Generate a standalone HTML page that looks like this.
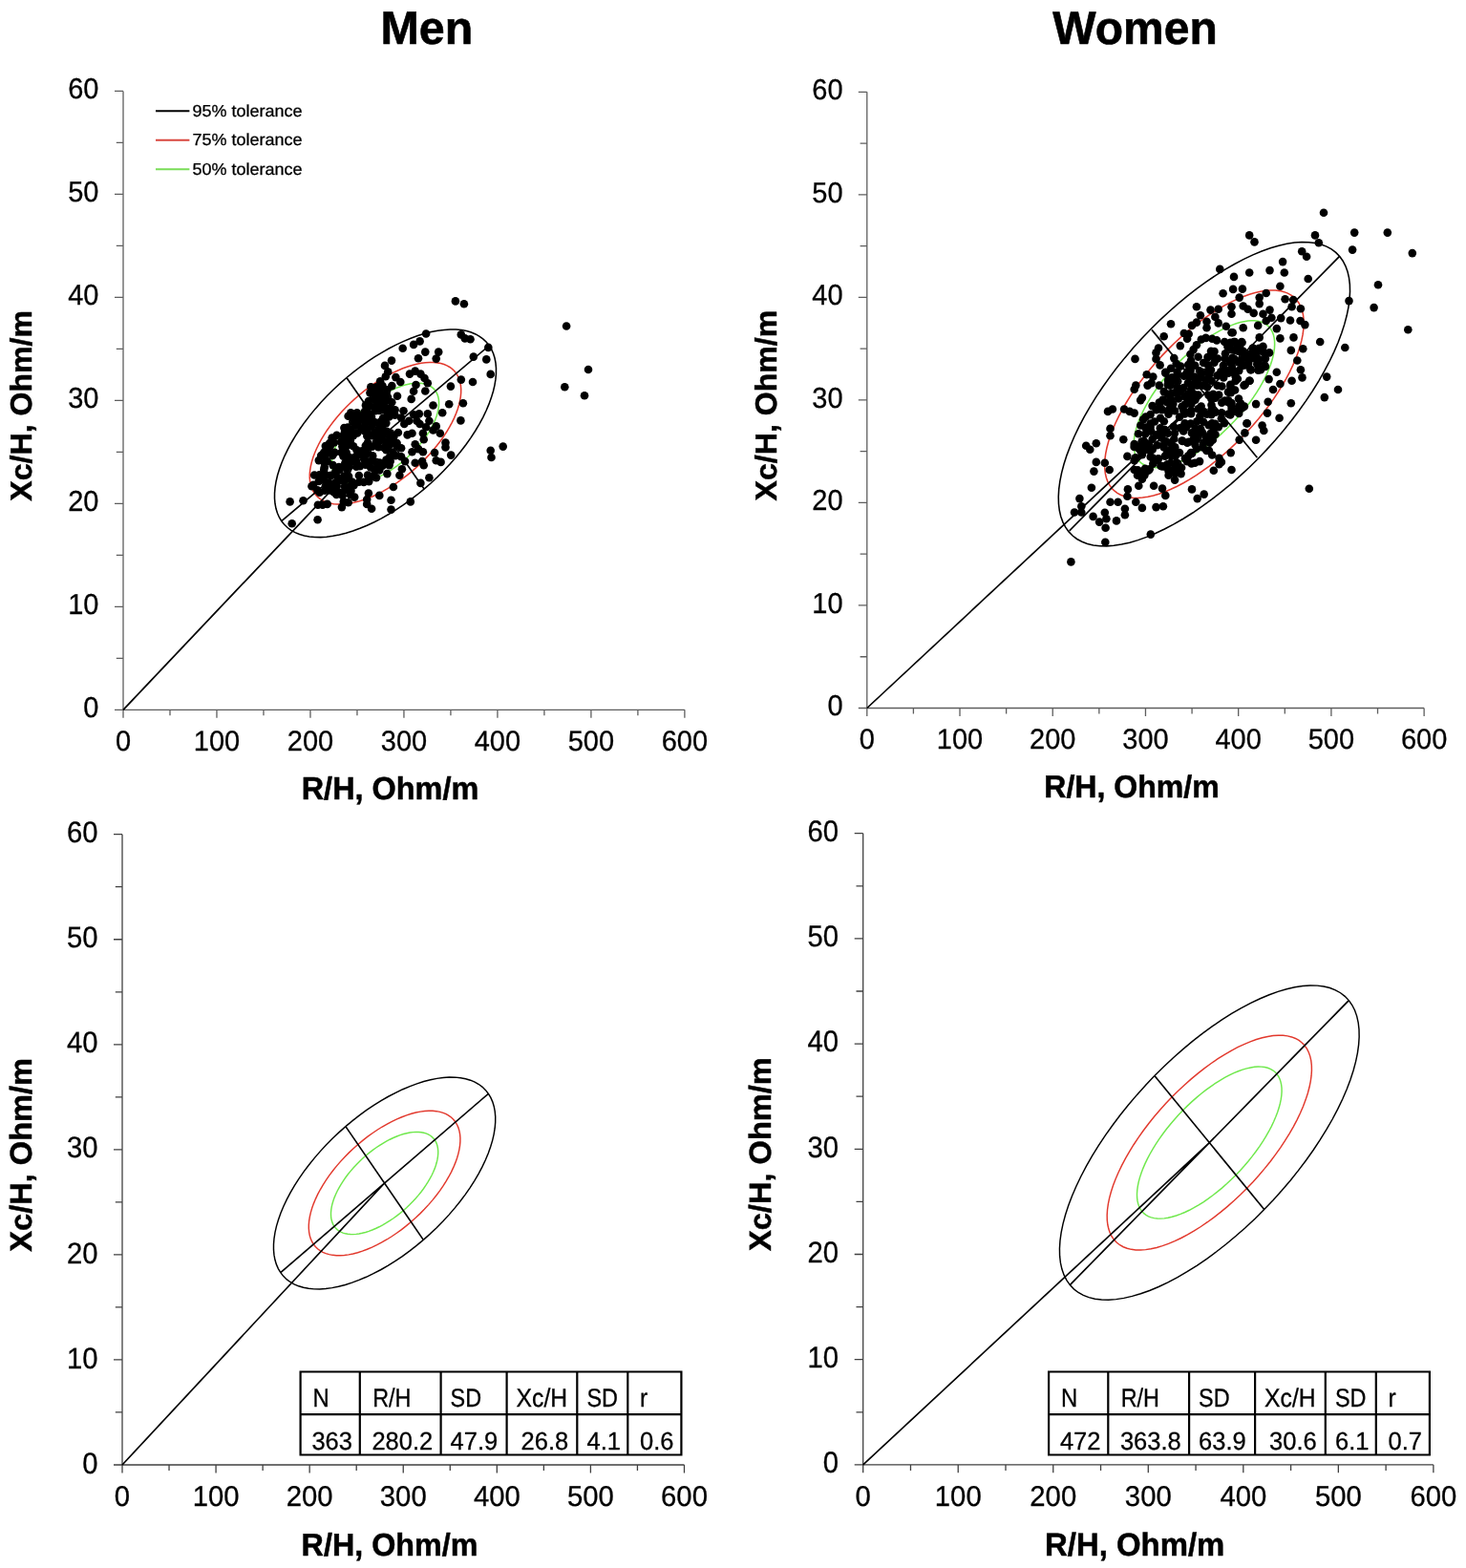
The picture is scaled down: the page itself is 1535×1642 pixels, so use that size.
<!DOCTYPE html>
<html lang="en"><head><meta charset="utf-8"><title>Men / Women BIVA tolerance ellipses</title>
<style>
html,body{margin:0;padding:0;background:#fff;}
body{width:1535px;height:1642px;overflow:hidden;}
svg{display:block;font-family:'Liberation Sans', Arial, Helvetica, sans-serif;}
text{fill:#000;text-rendering:geometricPrecision;}
.axis{fill:none;stroke-width:1.3;}
.ticks text,.legend text,.tt text{stroke:#000;stroke-width:0.3;}
.ell path{fill:none;}
.vec{fill:none;stroke:#000;}
.tbl{fill:none;stroke:#000;stroke-width:2.2;}
.lab,.title{font-weight:bold;stroke:#000;}
.lab{stroke-width:0.5;}
.title{stroke-width:0.6;}
.pts circle{fill:#000;}
</style></head><body>
<svg width="1535" height="1642" viewBox="0 0 1535 1642">
<rect width="1535" height="1642" fill="#fff"/>
<text class="title" transform="translate(446.85 45.6) scale(1 1.01)" font-size="48.4" text-anchor="middle">Men</text>
<text class="title" transform="translate(1188.5 45.6) scale(1 1.01)" font-size="48" text-anchor="middle">Women</text>
<g class="chart" id="chart1">
<path class="axis" d="M129 95.42V743.3H716.88M120 743.3h9M121.8 689.31h7.2M120 635.32h9M121.8 581.33h7.2M120 527.34h9M121.8 473.35h7.2M120 419.36h9M121.8 365.37h7.2M120 311.38h9M121.8 257.39h7.2M120 203.4h9M121.8 149.41h7.2M120 95.42h9M129 743.3v8.4M177.99 743.3v6M226.98 743.3v8.4M275.97 743.3v6M324.96 743.3v8.4M373.95 743.3v6M422.94 743.3v8.4M471.93 743.3v6M520.92 743.3v8.4M569.91 743.3v6M618.9 743.3v8.4M667.89 743.3v6M716.88 743.3v8.4" stroke="#5e5e5e"/>
<g class="ticks" font-size="29">
<text transform="translate(103.5 751.2) scale(1 1.045)" text-anchor="end">0</text>
<text transform="translate(103.5 643.22) scale(1 1.045)" text-anchor="end">10</text>
<text transform="translate(103.5 535.24) scale(1 1.045)" text-anchor="end">20</text>
<text transform="translate(103.5 427.26) scale(1 1.045)" text-anchor="end">30</text>
<text transform="translate(103.5 319.28) scale(1 1.045)" text-anchor="end">40</text>
<text transform="translate(103.5 211.3) scale(1 1.045)" text-anchor="end">50</text>
<text transform="translate(103.5 103.32) scale(1 1.045)" text-anchor="end">60</text>
<text transform="translate(129 785.6) scale(1 1.025)" text-anchor="middle">0</text>
<text transform="translate(226.98 785.6) scale(1 1.025)" text-anchor="middle">100</text>
<text transform="translate(324.96 785.6) scale(1 1.025)" text-anchor="middle">200</text>
<text transform="translate(422.94 785.6) scale(1 1.025)" text-anchor="middle">300</text>
<text transform="translate(520.92 785.6) scale(1 1.025)" text-anchor="middle">400</text>
<text transform="translate(618.9 785.6) scale(1 1.025)" text-anchor="middle">500</text>
<text transform="translate(716.88 785.6) scale(1 1.025)" text-anchor="middle">600</text>
</g>
<text class="lab" transform="translate(408.5 836.6) scale(1 1.025)" font-size="32.45" text-anchor="middle">R/H, Ohm/m</text>
<text class="lab" transform="translate(32.9 424.8) rotate(-90) scale(1 0.985)" font-size="32.1" text-anchor="middle">Xc/H, Ohm/m</text>
<g class="ell" stroke-width="1.55">
<path d="M456.03 409.39L457.2 411.33L458.14 413.45L458.85 415.74L459.32 418.19L459.55 420.8L459.54 423.55L459.29 426.43L458.8 429.43L458.08 432.53L457.12 435.72L455.93 438.99L454.52 442.32L452.89 445.7L451.04 449.12L449 452.55L446.76 455.99L444.33 459.43L441.73 462.83L438.96 466.2L436.05 469.52L432.99 472.77L429.81 475.94L426.51 479.01L423.12 481.97L419.64 484.82L416.1 487.53L412.5 490.1L408.86 492.51L405.19 494.75L401.52 496.82L397.86 498.71L394.23 500.4L390.63 501.9L387.09 503.19L383.62 504.26L380.23 505.12L376.94 505.77L373.77 506.18L370.72 506.38L367.82 506.35L365.07 506.09L362.48 505.61L360.06 504.91L357.84 503.99L355.81 502.85L353.98 501.51L352.37 499.96L350.97 498.21L349.8 496.27L348.86 494.15L348.15 491.86L347.68 489.41L347.45 486.8L347.46 484.05L347.71 481.17L348.2 478.17L348.92 475.07L349.88 471.88L351.07 468.61L352.48 465.28L354.11 461.9L355.96 458.48L358 455.05L360.24 451.61L362.67 448.17L365.27 444.77L368.04 441.4L370.95 438.08L374.01 434.83L377.19 431.66L380.49 428.59L383.88 425.63L387.36 422.78L390.9 420.07L394.5 417.5L398.14 415.09L401.81 412.85L405.48 410.78L409.14 408.89L412.77 407.2L416.37 405.7L419.91 404.41L423.38 403.34L426.77 402.48L430.06 401.83L433.23 401.42L436.28 401.22L439.18 401.25L441.93 401.51L444.52 401.99L446.94 402.69L449.16 403.61L451.19 404.75L453.02 406.09L454.63 407.64Z" stroke="#6fe84c"/>
<path d="M477.74 391.03L479.4 393.77L480.73 396.77L481.73 400.01L482.39 403.48L482.72 407.16L482.7 411.05L482.35 415.12L481.66 419.35L480.64 423.73L479.28 428.24L477.6 432.86L475.61 437.57L473.3 442.35L470.7 447.18L467.8 452.04L464.64 456.9L461.21 461.75L457.53 466.57L453.62 471.33L449.5 476.02L445.18 480.61L440.68 485.09L436.03 489.43L431.23 493.62L426.31 497.64L421.3 501.47L416.21 505.1L411.07 508.51L405.89 511.68L400.71 514.61L395.53 517.27L390.39 519.67L385.31 521.78L380.3 523.6L375.4 525.12L370.61 526.34L365.97 527.25L361.48 527.84L357.18 528.11L353.07 528.07L349.18 527.71L345.52 527.03L342.11 526.04L338.96 524.74L336.09 523.13L333.51 521.23L331.23 519.04L329.26 516.57L327.6 513.83L326.27 510.83L325.27 507.59L324.61 504.12L324.28 500.44L324.3 496.55L324.65 492.48L325.34 488.25L326.36 483.87L327.72 479.36L329.4 474.74L331.39 470.03L333.7 465.25L336.3 460.42L339.2 455.56L342.36 450.7L345.79 445.85L349.47 441.03L353.38 436.27L357.5 431.58L361.82 426.99L366.32 422.51L370.97 418.17L375.77 413.98L380.69 409.96L385.7 406.13L390.79 402.5L395.93 399.09L401.11 395.92L406.29 392.99L411.47 390.33L416.61 387.93L421.69 385.82L426.7 384L431.6 382.48L436.39 381.26L441.03 380.35L445.52 379.76L449.82 379.49L453.93 379.53L457.82 379.89L461.48 380.57L464.89 381.56L468.04 382.86L470.91 384.47L473.49 386.37L475.77 388.56Z" stroke="#e2392d"/>
<path d="M512.2 361.9L514.62 365.91L516.57 370.3L518.03 375.04L519 380.12L519.48 385.52L519.46 391.21L518.95 397.16L517.94 403.36L516.44 409.78L514.45 416.38L511.99 423.15L509.07 430.04L505.7 437.04L501.88 444.11L497.65 451.22L493.01 458.34L487.99 465.44L482.61 472.49L476.89 479.47L470.85 486.33L464.53 493.05L457.94 499.61L451.12 505.96L444.1 512.1L436.9 517.99L429.56 523.6L422.11 528.91L414.58 533.9L407 538.55L399.41 542.83L391.84 546.73L384.31 550.24L376.87 553.33L369.54 556L362.35 558.23L355.35 560.01L348.54 561.33L341.98 562.2L335.68 562.6L329.66 562.54L323.97 562.01L318.61 561.01L313.62 559.56L309.01 557.66L304.81 555.31L301.03 552.52L297.69 549.32L294.8 545.7L292.38 541.69L290.43 537.3L288.97 532.56L288 527.48L287.52 522.08L287.54 516.39L288.05 510.44L289.06 504.24L290.56 497.82L292.55 491.22L295.01 484.45L297.93 477.56L301.3 470.56L305.12 463.49L309.35 456.38L313.99 449.26L319.01 442.16L324.39 435.11L330.11 428.13L336.15 421.27L342.47 414.55L349.06 407.99L355.88 401.64L362.9 395.5L370.1 389.61L377.44 384L384.89 378.69L392.42 373.7L400 369.05L407.59 364.77L415.16 360.87L422.69 357.36L430.13 354.27L437.46 351.6L444.65 349.37L451.65 347.59L458.46 346.27L465.02 345.4L471.32 345L477.34 345.06L483.03 345.59L488.39 346.59L493.38 348.04L497.99 349.94L502.19 352.29L505.97 355.08L509.31 358.28Z" stroke="#000"/>
</g>
<path class="vec" d="M129 743.3L403.5 453.8M294.8 545.7L512.2 361.9M362.9 395.5L444.1 512.1" stroke-width="1.7"/>
<g class="pts">
<circle cx="446.1" cy="349.5" r="4.3"/><circle cx="439.6" cy="357.4" r="4.3"/><circle cx="433.1" cy="360.9" r="4.3"/><circle cx="421.7" cy="364.7" r="4.3"/><circle cx="445.3" cy="368.6" r="4.3"/><circle cx="459.2" cy="368.6" r="4.3"/><circle cx="456.7" cy="375.6" r="4.3"/><circle cx="438" cy="375.3" r="4.3"/><circle cx="482.8" cy="350.4" r="4.3"/><circle cx="486.8" cy="354.4" r="4.3"/><circle cx="492.5" cy="355.2" r="4.3"/><circle cx="511.3" cy="363.9" r="4.3"/><circle cx="495.8" cy="373.6" r="4.3"/><circle cx="509.3" cy="376.4" r="4.3"/><circle cx="513.7" cy="391.9" r="4.3"/><circle cx="482.8" cy="397.6" r="4.3"/><circle cx="495" cy="400" r="4.3"/><circle cx="471.9" cy="404.6" r="4.3"/><circle cx="470.2" cy="423.3" r="4.3"/><circle cx="484.9" cy="422.3" r="4.3"/><circle cx="453.5" cy="424.5" r="4.3"/><circle cx="463.2" cy="432.3" r="4.3"/><circle cx="482.4" cy="440.4" r="4.3"/><circle cx="456.7" cy="446.4" r="4.3"/><circle cx="453.5" cy="450.5" r="4.3"/><circle cx="460.8" cy="453.8" r="4.3"/><circle cx="466.5" cy="463.6" r="4.3"/><circle cx="466.5" cy="468.4" r="4.3"/><circle cx="472.2" cy="476.6" r="4.3"/><circle cx="455.1" cy="474.1" r="4.3"/><circle cx="456.7" cy="482.3" r="4.3"/><circle cx="461.6" cy="483.9" r="4.3"/><circle cx="449.4" cy="500.2" r="4.3"/><circle cx="440.4" cy="505.9" r="4.3"/><circle cx="526.7" cy="467.6" r="4.3"/><circle cx="513.7" cy="471.7" r="4.3"/><circle cx="514.5" cy="479" r="4.3"/><circle cx="429.8" cy="525.4" r="4.3"/><circle cx="409.5" cy="523.8" r="4.3"/><circle cx="409.5" cy="533.6" r="4.3"/><circle cx="411.9" cy="510" r="4.3"/><circle cx="397.3" cy="518.9" r="4.3"/><circle cx="385.9" cy="516.5" r="4.3"/><circle cx="384.2" cy="523" r="4.3"/><circle cx="384.2" cy="527.9" r="4.3"/><circle cx="389.1" cy="532.8" r="4.3"/><circle cx="405.4" cy="496.1" r="4.3"/><circle cx="418.4" cy="497.8" r="4.3"/><circle cx="420.9" cy="491.2" r="4.3"/><circle cx="394" cy="500.2" r="4.3"/><circle cx="303.6" cy="525.4" r="4.3"/><circle cx="317.5" cy="524.3" r="4.3"/><circle cx="305.7" cy="548.2" r="4.3"/><circle cx="332.6" cy="544.2" r="4.3"/><circle cx="332.9" cy="528.7" r="4.3"/><circle cx="337.8" cy="528.7" r="4.3"/><circle cx="342.7" cy="527.9" r="4.3"/><circle cx="357.9" cy="531.1" r="4.3"/><circle cx="359.8" cy="525.4" r="4.3"/><circle cx="364.7" cy="526.3" r="4.3"/><circle cx="371.2" cy="520.6" r="4.3"/><circle cx="326.4" cy="509.2" r="4.3"/><circle cx="334.6" cy="515.7" r="4.3"/><circle cx="410" cy="377.6" r="4.3"/><circle cx="403" cy="382.9" r="4.3"/><circle cx="406.2" cy="389.4" r="4.3"/><circle cx="403.8" cy="394.3" r="4.3"/><circle cx="398.1" cy="399.2" r="4.3"/><circle cx="400.5" cy="404.1" r="4.3"/><circle cx="388.3" cy="405.2" r="4.3"/><circle cx="394" cy="409.8" r="4.3"/><circle cx="387.5" cy="411.4" r="4.3"/><circle cx="392.4" cy="416.3" r="4.3"/><circle cx="398.9" cy="414.7" r="4.3"/><circle cx="405.4" cy="408.2" r="4.3"/><circle cx="403.8" cy="419.6" r="4.3"/><circle cx="397.3" cy="422.8" r="4.3"/><circle cx="410.3" cy="421.2" r="4.3"/><circle cx="408.7" cy="427.7" r="4.3"/><circle cx="413.6" cy="429.3" r="4.3"/><circle cx="400.5" cy="429.3" r="4.3"/><circle cx="394" cy="426.1" r="4.3"/><circle cx="414.4" cy="395.1" r="4.3"/><circle cx="419.3" cy="400" r="4.3"/><circle cx="410.3" cy="404.1" r="4.3"/><circle cx="429" cy="391.6" r="4.3"/><circle cx="434.7" cy="388.6" r="4.3"/><circle cx="440.4" cy="391.6" r="4.3"/><circle cx="444.5" cy="396" r="4.3"/><circle cx="447.8" cy="401.3" r="4.3"/><circle cx="445.3" cy="409.5" r="4.3"/><circle cx="435.5" cy="403" r="4.3"/><circle cx="433.1" cy="409.8" r="4.3"/><circle cx="430.7" cy="417.9" r="4.3"/><circle cx="416" cy="414.7" r="4.3"/><circle cx="422.5" cy="430.2" r="4.3"/><circle cx="433.1" cy="434.2" r="4.3"/><circle cx="438.8" cy="433.4" r="4.3"/><circle cx="447.8" cy="433.4" r="4.3"/><circle cx="449.4" cy="440.7" r="4.3"/><circle cx="436.4" cy="440.7" r="4.3"/><circle cx="428.2" cy="440.7" r="4.3"/><circle cx="420.1" cy="437.5" r="4.3"/><circle cx="423.3" cy="444" r="4.3"/><circle cx="439.6" cy="444" r="4.3"/><circle cx="446.1" cy="447.3" r="4.3"/><circle cx="431.5" cy="453.8" r="4.3"/><circle cx="426.6" cy="455.4" r="4.3"/><circle cx="442.9" cy="453.8" r="4.3"/><circle cx="443.7" cy="460.3" r="4.3"/><circle cx="434.7" cy="465.2" r="4.3"/><circle cx="438" cy="470.1" r="4.3"/><circle cx="442.9" cy="473.3" r="4.3"/><circle cx="431.5" cy="473.3" r="4.3"/><circle cx="420.1" cy="469.3" r="4.3"/><circle cx="434.7" cy="484.7" r="4.3"/><circle cx="442.1" cy="483.1" r="4.3"/><circle cx="443.7" cy="487.2" r="4.3"/><circle cx="424.1" cy="483.1" r="4.3"/><circle cx="420.1" cy="478.2" r="4.3"/><circle cx="476.9" cy="315.4" r="4.3"/><circle cx="485.9" cy="318.3" r="4.3"/><circle cx="593.1" cy="341.5" r="4.3"/><circle cx="616" cy="387" r="4.3"/><circle cx="591.3" cy="405.2" r="4.3"/><circle cx="612" cy="414.2" r="4.3"/><circle cx="389.1" cy="406.1" r="4.3"/><circle cx="394.2" cy="405.2" r="4.3"/><circle cx="399.9" cy="405.8" r="4.3"/><circle cx="392" cy="411.7" r="4.3"/><circle cx="397" cy="410.3" r="4.3"/><circle cx="404.6" cy="411.7" r="4.3"/><circle cx="390.8" cy="416.6" r="4.3"/><circle cx="396.7" cy="416.6" r="4.3"/><circle cx="401.1" cy="415.3" r="4.3"/><circle cx="406.1" cy="416.1" r="4.3"/><circle cx="385.9" cy="420" r="4.3"/><circle cx="393.5" cy="419.7" r="4.3"/><circle cx="396.8" cy="422.3" r="4.3"/><circle cx="404.5" cy="419.6" r="4.3"/><circle cx="382.9" cy="424.4" r="4.3"/><circle cx="387.8" cy="425.3" r="4.3"/><circle cx="394.6" cy="426.7" r="4.3"/><circle cx="403" cy="425.8" r="4.3"/><circle cx="408.9" cy="427.7" r="4.3"/><circle cx="367.3" cy="432.2" r="4.3"/><circle cx="373.8" cy="432.2" r="4.3"/><circle cx="382" cy="430.9" r="4.3"/><circle cx="386.1" cy="432.7" r="4.3"/><circle cx="393.2" cy="430.1" r="4.3"/><circle cx="397.1" cy="430" r="4.3"/><circle cx="405.8" cy="432.3" r="4.3"/><circle cx="409.2" cy="432.3" r="4.3"/><circle cx="364.6" cy="435.7" r="4.3"/><circle cx="370.5" cy="436.7" r="4.3"/><circle cx="376.6" cy="436.1" r="4.3"/><circle cx="382.2" cy="437.8" r="4.3"/><circle cx="388.9" cy="436.3" r="4.3"/><circle cx="401.1" cy="437.8" r="4.3"/><circle cx="407.4" cy="436.5" r="4.3"/><circle cx="413.5" cy="434.8" r="4.3"/><circle cx="369.3" cy="441.6" r="4.3"/><circle cx="374.6" cy="442.5" r="4.3"/><circle cx="381.8" cy="441.4" r="4.3"/><circle cx="386.8" cy="441.6" r="4.3"/><circle cx="392.5" cy="442.3" r="4.3"/><circle cx="398.3" cy="441.7" r="4.3"/><circle cx="404.3" cy="443.1" r="4.3"/><circle cx="360.4" cy="448.1" r="4.3"/><circle cx="364.2" cy="447.5" r="4.3"/><circle cx="372" cy="445.6" r="4.3"/><circle cx="378.7" cy="448.4" r="4.3"/><circle cx="382.5" cy="448.3" r="4.3"/><circle cx="389.1" cy="446.8" r="4.3"/><circle cx="397.1" cy="447.9" r="4.3"/><circle cx="400.3" cy="446.6" r="4.3"/><circle cx="360.9" cy="452.9" r="4.3"/><circle cx="367.6" cy="450.7" r="4.3"/><circle cx="374.2" cy="453.4" r="4.3"/><circle cx="381.5" cy="451.2" r="4.3"/><circle cx="385.2" cy="453.4" r="4.3"/><circle cx="392.7" cy="452.7" r="4.3"/><circle cx="397" cy="450.5" r="4.3"/><circle cx="405.1" cy="451.7" r="4.3"/><circle cx="409" cy="453.5" r="4.3"/><circle cx="416.9" cy="453" r="4.3"/><circle cx="347.6" cy="458.6" r="4.3"/><circle cx="352.6" cy="455.9" r="4.3"/><circle cx="359.5" cy="456.3" r="4.3"/><circle cx="364.1" cy="456" r="4.3"/><circle cx="369.9" cy="456.2" r="4.3"/><circle cx="384.3" cy="456.5" r="4.3"/><circle cx="389.4" cy="456.1" r="4.3"/><circle cx="394.9" cy="455.6" r="4.3"/><circle cx="400.6" cy="455.5" r="4.3"/><circle cx="408.2" cy="457.4" r="4.3"/><circle cx="412.4" cy="457.1" r="4.3"/><circle cx="345.1" cy="464" r="4.3"/><circle cx="349.9" cy="463.5" r="4.3"/><circle cx="357.1" cy="462.8" r="4.3"/><circle cx="362.1" cy="461.9" r="4.3"/><circle cx="366.9" cy="461.1" r="4.3"/><circle cx="385" cy="463.5" r="4.3"/><circle cx="393.7" cy="463" r="4.3"/><circle cx="397.7" cy="461.5" r="4.3"/><circle cx="403.7" cy="462.2" r="4.3"/><circle cx="409.3" cy="462.2" r="4.3"/><circle cx="415.6" cy="464" r="4.3"/><circle cx="340.8" cy="467.1" r="4.3"/><circle cx="345.7" cy="467.2" r="4.3"/><circle cx="358.4" cy="467.6" r="4.3"/><circle cx="363.7" cy="466.8" r="4.3"/><circle cx="370" cy="467.2" r="4.3"/><circle cx="382.8" cy="466.7" r="4.3"/><circle cx="389.7" cy="467.7" r="4.3"/><circle cx="396.3" cy="468.1" r="4.3"/><circle cx="402.2" cy="468.9" r="4.3"/><circle cx="407" cy="467" r="4.3"/><circle cx="415.1" cy="466.4" r="4.3"/><circle cx="339.2" cy="473.8" r="4.3"/><circle cx="343.2" cy="472.9" r="4.3"/><circle cx="350.4" cy="473.9" r="4.3"/><circle cx="357.5" cy="473.9" r="4.3"/><circle cx="362.7" cy="474.1" r="4.3"/><circle cx="373.5" cy="471.2" r="4.3"/><circle cx="379.2" cy="472.3" r="4.3"/><circle cx="385.1" cy="473.9" r="4.3"/><circle cx="404.4" cy="471.1" r="4.3"/><circle cx="411.4" cy="473.6" r="4.3"/><circle cx="336.2" cy="477.1" r="4.3"/><circle cx="340" cy="477.2" r="4.3"/><circle cx="348.2" cy="477" r="4.3"/><circle cx="359.4" cy="477.6" r="4.3"/><circle cx="365.3" cy="478.6" r="4.3"/><circle cx="372.3" cy="478.4" r="4.3"/><circle cx="377.9" cy="476.5" r="4.3"/><circle cx="382.2" cy="477.1" r="4.3"/><circle cx="390.2" cy="477.3" r="4.3"/><circle cx="408" cy="478.6" r="4.3"/><circle cx="414" cy="477.3" r="4.3"/><circle cx="333.8" cy="482.1" r="4.3"/><circle cx="340" cy="484.7" r="4.3"/><circle cx="342.8" cy="483" r="4.3"/><circle cx="361.4" cy="484.7" r="4.3"/><circle cx="367.4" cy="483.4" r="4.3"/><circle cx="373.2" cy="483.3" r="4.3"/><circle cx="382" cy="481.9" r="4.3"/><circle cx="387.5" cy="483.2" r="4.3"/><circle cx="393.7" cy="483.9" r="4.3"/><circle cx="397.5" cy="484.5" r="4.3"/><circle cx="404.4" cy="481.6" r="4.3"/><circle cx="408.7" cy="483.1" r="4.3"/><circle cx="339.7" cy="489.2" r="4.3"/><circle cx="348.6" cy="487.1" r="4.3"/><circle cx="354.9" cy="489.1" r="4.3"/><circle cx="360.8" cy="487.7" r="4.3"/><circle cx="365" cy="488" r="4.3"/><circle cx="373.1" cy="488.7" r="4.3"/><circle cx="376.9" cy="488.1" r="4.3"/><circle cx="382.7" cy="486.8" r="4.3"/><circle cx="388.1" cy="489.5" r="4.3"/><circle cx="394.7" cy="489.8" r="4.3"/><circle cx="400.6" cy="487.6" r="4.3"/><circle cx="407.5" cy="487.3" r="4.3"/><circle cx="339.2" cy="492" r="4.3"/><circle cx="351.3" cy="494.1" r="4.3"/><circle cx="355.7" cy="492" r="4.3"/><circle cx="363.9" cy="492.3" r="4.3"/><circle cx="392.6" cy="493.2" r="4.3"/><circle cx="397.3" cy="492.4" r="4.3"/><circle cx="329.2" cy="497.5" r="4.3"/><circle cx="334.4" cy="497.4" r="4.3"/><circle cx="340.9" cy="497.4" r="4.3"/><circle cx="346.5" cy="497.9" r="4.3"/><circle cx="353.7" cy="500.1" r="4.3"/><circle cx="360.3" cy="498.5" r="4.3"/><circle cx="365.1" cy="498.8" r="4.3"/><circle cx="375.9" cy="498" r="4.3"/><circle cx="385" cy="497.5" r="4.3"/><circle cx="389.4" cy="499.2" r="4.3"/><circle cx="333.8" cy="503.9" r="4.3"/><circle cx="338.7" cy="502.3" r="4.3"/><circle cx="344" cy="505.4" r="4.3"/><circle cx="351.5" cy="505.2" r="4.3"/><circle cx="358" cy="503.1" r="4.3"/><circle cx="361.1" cy="502.8" r="4.3"/><circle cx="368.5" cy="504.6" r="4.3"/><circle cx="375.9" cy="504.7" r="4.3"/><circle cx="380.9" cy="504.9" r="4.3"/><circle cx="386.3" cy="504.1" r="4.3"/><circle cx="328.1" cy="507.7" r="4.3"/><circle cx="341" cy="508.2" r="4.3"/><circle cx="347.8" cy="507.5" r="4.3"/><circle cx="352.7" cy="509" r="4.3"/><circle cx="361" cy="509.6" r="4.3"/><circle cx="366.7" cy="509.1" r="4.3"/><circle cx="370.5" cy="508.3" r="4.3"/><circle cx="332.4" cy="513.3" r="4.3"/><circle cx="340" cy="513.7" r="4.3"/><circle cx="345.5" cy="513.4" r="4.3"/><circle cx="349.5" cy="515.2" r="4.3"/><circle cx="355.7" cy="515.9" r="4.3"/><circle cx="362.4" cy="513.3" r="4.3"/><circle cx="367.5" cy="514.1" r="4.3"/><circle cx="352.3" cy="517.9" r="4.3"/><circle cx="358.7" cy="519" r="4.3"/><circle cx="367" cy="518.3" r="4.3"/>
</g>
</g>
<g class="chart" id="chart2">
<path class="axis" d="M907.8 96.32V741.5H1491.12M898.8 741.5h9M900.6 687.74h7.2M898.8 633.97h9M900.6 580.2h7.2M898.8 526.44h9M900.6 472.68h7.2M898.8 418.91h9M900.6 365.14h7.2M898.8 311.38h9M900.6 257.62h7.2M898.8 203.85h9M900.6 150.09h7.2M898.8 96.32h9M907.8 741.5v8.4M956.41 741.5v6M1005.02 741.5v8.4M1053.63 741.5v6M1102.24 741.5v8.4M1150.85 741.5v6M1199.46 741.5v8.4M1248.07 741.5v6M1296.68 741.5v8.4M1345.29 741.5v6M1393.9 741.5v8.4M1442.51 741.5v6M1491.12 741.5v8.4" stroke="#5e5e5e"/>
<g class="ticks" font-size="29">
<text transform="translate(882.6 749.2) scale(1 1.045)" text-anchor="end">0</text>
<text transform="translate(882.6 641.67) scale(1 1.045)" text-anchor="end">10</text>
<text transform="translate(882.6 534.14) scale(1 1.045)" text-anchor="end">20</text>
<text transform="translate(882.6 426.61) scale(1 1.045)" text-anchor="end">30</text>
<text transform="translate(882.6 319.08) scale(1 1.045)" text-anchor="end">40</text>
<text transform="translate(882.6 211.55) scale(1 1.045)" text-anchor="end">50</text>
<text transform="translate(882.6 104.02) scale(1 1.045)" text-anchor="end">60</text>
<text transform="translate(907.8 784.1) scale(1 1.025)" text-anchor="middle">0</text>
<text transform="translate(1005.02 784.1) scale(1 1.025)" text-anchor="middle">100</text>
<text transform="translate(1102.24 784.1) scale(1 1.025)" text-anchor="middle">200</text>
<text transform="translate(1199.46 784.1) scale(1 1.025)" text-anchor="middle">300</text>
<text transform="translate(1296.68 784.1) scale(1 1.025)" text-anchor="middle">400</text>
<text transform="translate(1393.9 784.1) scale(1 1.025)" text-anchor="middle">500</text>
<text transform="translate(1491.12 784.1) scale(1 1.025)" text-anchor="middle">600</text>
</g>
<text class="lab" transform="translate(1185 834.8) scale(1 1.025)" font-size="32.1" text-anchor="middle">R/H, Ohm/m</text>
<text class="lab" transform="translate(812.5 424.6) rotate(-90) scale(1 0.985)" font-size="32.1" text-anchor="middle">Xc/H, Ohm/m</text>
<g class="ell" stroke-width="1.55">
<path d="M1329.43 343.02L1331.06 345.3L1332.4 347.87L1333.44 350.72L1334.16 353.83L1334.56 357.2L1334.66 360.8L1334.43 364.63L1333.9 368.66L1333.05 372.88L1331.89 377.27L1330.42 381.82L1328.66 386.49L1326.61 391.28L1324.28 396.16L1321.67 401.11L1318.81 406.11L1315.7 411.13L1312.35 416.17L1308.78 421.19L1305.01 426.17L1301.05 431.1L1296.91 435.94L1292.63 440.69L1288.2 445.32L1283.66 449.81L1279.03 454.14L1274.31 458.29L1269.54 462.24L1264.73 465.99L1259.9 469.5L1255.08 472.78L1250.28 475.79L1245.53 478.54L1240.85 481L1236.25 483.17L1231.75 485.04L1227.38 486.6L1223.16 487.84L1219.09 488.76L1215.21 489.36L1211.52 489.63L1208.04 489.56L1204.79 489.17L1201.78 488.45L1199.02 487.41L1196.53 486.05L1194.31 484.37L1192.37 482.38L1190.74 480.1L1189.4 477.53L1188.36 474.68L1187.64 471.57L1187.24 468.2L1187.14 464.6L1187.37 460.77L1187.9 456.74L1188.75 452.52L1189.91 448.13L1191.38 443.58L1193.14 438.91L1195.19 434.12L1197.52 429.24L1200.13 424.29L1202.99 419.29L1206.1 414.27L1209.45 409.23L1213.02 404.21L1216.79 399.23L1220.75 394.3L1224.89 389.46L1229.17 384.71L1233.6 380.08L1238.14 375.59L1242.77 371.26L1247.49 367.11L1252.26 363.16L1257.07 359.41L1261.9 355.9L1266.72 352.62L1271.52 349.61L1276.27 346.86L1280.95 344.4L1285.55 342.23L1290.05 340.36L1294.42 338.8L1298.64 337.56L1302.71 336.64L1306.59 336.04L1310.28 335.77L1313.76 335.84L1317.01 336.23L1320.02 336.95L1322.78 337.99L1325.27 339.35L1327.49 341.03Z" stroke="#6fe84c"/>
<path d="M1357.75 314.21L1360.07 317.44L1361.96 321.07L1363.42 325.1L1364.44 329.5L1365.01 334.26L1365.15 339.35L1364.83 344.76L1364.07 350.46L1362.87 356.42L1361.23 362.63L1359.16 369.05L1356.67 375.66L1353.77 382.42L1350.47 389.32L1346.79 396.32L1342.74 403.38L1338.35 410.49L1333.62 417.6L1328.57 424.7L1323.24 431.74L1317.64 438.7L1311.8 445.55L1305.74 452.26L1299.49 458.8L1293.07 465.15L1286.52 471.26L1279.85 477.13L1273.11 482.72L1266.31 488.01L1259.49 492.98L1252.67 497.61L1245.89 501.87L1239.18 505.75L1232.56 509.23L1226.06 512.3L1219.7 514.94L1213.53 517.15L1207.56 518.9L1201.81 520.2L1196.32 521.05L1191.11 521.42L1186.19 521.34L1181.59 520.78L1177.34 519.77L1173.44 518.29L1169.92 516.36L1166.78 513.99L1164.05 511.19L1161.73 507.96L1159.84 504.33L1158.38 500.3L1157.36 495.9L1156.79 491.14L1156.65 486.05L1156.97 480.64L1157.73 474.94L1158.93 468.98L1160.57 462.77L1162.64 456.35L1165.13 449.74L1168.03 442.98L1171.33 436.08L1175.01 429.08L1179.06 422.02L1183.45 414.91L1188.18 407.8L1193.23 400.7L1198.56 393.66L1204.16 386.7L1210 379.85L1216.06 373.14L1222.31 366.6L1228.73 360.25L1235.28 354.14L1241.95 348.27L1248.69 342.68L1255.49 337.39L1262.31 332.42L1269.13 327.79L1275.91 323.53L1282.62 319.65L1289.24 316.17L1295.74 313.1L1302.1 310.46L1308.27 308.25L1314.24 306.5L1319.99 305.2L1325.48 304.35L1330.69 303.98L1335.61 304.06L1340.21 304.62L1344.46 305.63L1348.36 307.11L1351.88 309.04L1355.02 311.41Z" stroke="#e2392d"/>
<path d="M1402.7 268.5L1406.09 273.22L1408.86 278.54L1411 284.44L1412.49 290.88L1413.34 297.85L1413.53 305.31L1413.07 313.23L1411.95 321.57L1410.19 330.3L1407.79 339.39L1404.76 348.79L1401.12 358.46L1396.87 368.37L1392.05 378.47L1386.66 388.71L1380.73 399.06L1374.29 409.46L1367.36 419.88L1359.98 430.27L1352.18 440.58L1343.98 450.77L1335.43 460.8L1326.55 470.62L1317.4 480.2L1308 489.49L1298.41 498.44L1288.65 507.04L1278.77 515.22L1268.82 522.97L1258.83 530.24L1248.86 537.02L1238.93 543.26L1229.1 548.94L1219.4 554.03L1209.88 558.53L1200.58 562.39L1191.54 565.62L1182.8 568.19L1174.39 570.1L1166.35 571.33L1158.71 571.88L1151.52 571.75L1144.79 570.94L1138.55 569.46L1132.85 567.3L1127.69 564.48L1123.1 561.01L1119.1 556.9L1115.71 552.18L1112.94 546.86L1110.8 540.96L1109.31 534.52L1108.46 527.55L1108.27 520.09L1108.73 512.17L1109.85 503.83L1111.61 495.1L1114.01 486.01L1117.04 476.61L1120.68 466.94L1124.93 457.03L1129.75 446.93L1135.14 436.69L1141.07 426.34L1147.51 415.94L1154.44 405.52L1161.82 395.13L1169.62 384.82L1177.82 374.63L1186.37 364.6L1195.25 354.78L1204.4 345.2L1213.8 335.91L1223.39 326.96L1233.15 318.36L1243.03 310.18L1252.98 302.43L1262.97 295.16L1272.94 288.38L1282.87 282.14L1292.7 276.46L1302.4 271.37L1311.92 266.87L1321.22 263.01L1330.26 259.78L1339 257.21L1347.41 255.3L1355.45 254.07L1363.09 253.52L1370.28 253.65L1377.01 254.46L1383.25 255.94L1388.95 258.1L1394.11 260.92L1398.7 264.39Z" stroke="#000"/>
</g>
<path class="vec" d="M1119.7 555.9L1402.6 268.4M1206 345.4L1316.4 479.3M907.8 741.5L1261.2 412.3" stroke-width="1.7"/>
<g class="pts">
<circle cx="1308.2" cy="246.4" r="4.3"/><circle cx="1277.3" cy="281.9" r="4.3"/><circle cx="1292" cy="289.9" r="4.3"/><circle cx="1308.2" cy="285.5" r="4.3"/><circle cx="1280.6" cy="307.2" r="4.3"/><circle cx="1291.1" cy="302.9" r="4.3"/><circle cx="1300.9" cy="302.6" r="4.3"/><circle cx="1297.7" cy="311.6" r="4.3"/><circle cx="1252.9" cy="321.3" r="4.3"/><circle cx="1226" cy="339.3" r="4.3"/><circle cx="1218.7" cy="352.3" r="4.3"/><circle cx="1188.5" cy="375.9" r="4.3"/><circle cx="1267.5" cy="324.6" r="4.3"/><circle cx="1275.7" cy="323.8" r="4.3"/><circle cx="1289.5" cy="321.3" r="4.3"/><circle cx="1289.5" cy="328.7" r="4.3"/><circle cx="1301.7" cy="320.5" r="4.3"/><circle cx="1306.6" cy="323.8" r="4.3"/><circle cx="1256.9" cy="330.3" r="4.3"/><circle cx="1252.9" cy="337.6" r="4.3"/><circle cx="1248" cy="340.9" r="4.3"/><circle cx="1263.5" cy="336.8" r="4.3"/><circle cx="1263.5" cy="343.3" r="4.3"/><circle cx="1272.4" cy="331.9" r="4.3"/><circle cx="1275.7" cy="338.4" r="4.3"/><circle cx="1283.8" cy="341.7" r="4.3"/><circle cx="1289.5" cy="348.2" r="4.3"/><circle cx="1301.7" cy="343.3" r="4.3"/><circle cx="1239.8" cy="349" r="4.3"/><circle cx="1244.7" cy="349.8" r="4.3"/><circle cx="1243.1" cy="354.7" r="4.3"/><circle cx="1235.8" cy="362.1" r="4.3"/><circle cx="1213" cy="364.5" r="4.3"/><circle cx="1210.5" cy="369.4" r="4.3"/><circle cx="1210.5" cy="375.9" r="4.3"/><circle cx="1214.6" cy="382.4" r="4.3"/><circle cx="1229.3" cy="375.1" r="4.3"/><circle cx="1231.7" cy="380.8" r="4.3"/><circle cx="1226" cy="385.7" r="4.3"/><circle cx="1220.3" cy="389.7" r="4.3"/><circle cx="1246.4" cy="371" r="4.3"/><circle cx="1246.4" cy="382.4" r="4.3"/><circle cx="1252.9" cy="361.2" r="4.3"/><circle cx="1257.8" cy="355.5" r="4.3"/><circle cx="1262.6" cy="353.9" r="4.3"/><circle cx="1269.2" cy="354.7" r="4.3"/><circle cx="1274" cy="356.4" r="4.3"/><circle cx="1249.6" cy="366.1" r="4.3"/><circle cx="1282.2" cy="358" r="4.3"/><circle cx="1285.4" cy="362.9" r="4.3"/><circle cx="1292" cy="358" r="4.3"/><circle cx="1300.1" cy="358" r="4.3"/><circle cx="1295.2" cy="364.5" r="4.3"/><circle cx="1301.7" cy="367.8" r="4.3"/><circle cx="1308.2" cy="371" r="4.3"/><circle cx="1309.9" cy="387.3" r="4.3"/><circle cx="1308.2" cy="398.7" r="4.3"/><circle cx="1302.5" cy="403.6" r="4.3"/><circle cx="1200.7" cy="392.2" r="4.3"/><circle cx="1207.3" cy="394.6" r="4.3"/><circle cx="1205.6" cy="401.1" r="4.3"/><circle cx="1201.6" cy="403.6" r="4.3"/><circle cx="1189.3" cy="403.6" r="4.3"/><circle cx="1187.7" cy="407.7" r="4.3"/><circle cx="1195.9" cy="416.6" r="4.3"/><circle cx="1194.2" cy="419.1" r="4.3"/><circle cx="1213.8" cy="403.6" r="4.3"/><circle cx="1218.7" cy="410.1" r="4.3"/><circle cx="1213.8" cy="421.5" r="4.3"/><circle cx="1220.3" cy="390.6" r="4.3"/><circle cx="1223.6" cy="397.1" r="4.3"/><circle cx="1225.2" cy="403.6" r="4.3"/><circle cx="1226.8" cy="411.7" r="4.3"/><circle cx="1386" cy="222.8" r="4.3"/><circle cx="1313.5" cy="253.4" r="4.3"/><circle cx="1377" cy="246.4" r="4.3"/><circle cx="1380.8" cy="254.2" r="4.3"/><circle cx="1418.2" cy="243.6" r="4.3"/><circle cx="1452.8" cy="243.6" r="4.3"/><circle cx="1416.1" cy="261.6" r="4.3"/><circle cx="1478.8" cy="265.1" r="4.3"/><circle cx="1443" cy="298.2" r="4.3"/><circle cx="1438.6" cy="322.1" r="4.3"/><circle cx="1474.3" cy="345.3" r="4.3"/><circle cx="1412.5" cy="315.1" r="4.3"/><circle cx="1408.3" cy="364" r="4.3"/><circle cx="1382.2" cy="358" r="4.3"/><circle cx="1389.2" cy="394.6" r="4.3"/><circle cx="1401" cy="408" r="4.3"/><circle cx="1386.8" cy="416.1" r="4.3"/><circle cx="1363.2" cy="263.2" r="4.3"/><circle cx="1368.1" cy="268.7" r="4.3"/><circle cx="1343.1" cy="274.1" r="4.3"/><circle cx="1344.8" cy="285.5" r="4.3"/><circle cx="1329.5" cy="283.1" r="4.3"/><circle cx="1369.7" cy="292" r="4.3"/><circle cx="1340.4" cy="299.7" r="4.3"/><circle cx="1325.7" cy="307" r="4.3"/><circle cx="1318.7" cy="311.6" r="4.3"/><circle cx="1318.7" cy="318.1" r="4.3"/><circle cx="1345.6" cy="313.2" r="4.3"/><circle cx="1354.2" cy="314" r="4.3"/><circle cx="1352.6" cy="321.3" r="4.3"/><circle cx="1361.9" cy="323.3" r="4.3"/><circle cx="1312.7" cy="327.9" r="4.3"/><circle cx="1329.5" cy="324.6" r="4.3"/><circle cx="1322.5" cy="328.7" r="4.3"/><circle cx="1331.4" cy="332.7" r="4.3"/><circle cx="1325.7" cy="336" r="4.3"/><circle cx="1341.2" cy="333.1" r="4.3"/><circle cx="1351" cy="335.5" r="4.3"/><circle cx="1361.5" cy="336" r="4.3"/><circle cx="1366.4" cy="340.1" r="4.3"/><circle cx="1317.2" cy="340.9" r="4.3"/><circle cx="1336.8" cy="344.1" r="4.3"/><circle cx="1318.7" cy="353.4" r="4.3"/><circle cx="1340.4" cy="354.4" r="4.3"/><circle cx="1354.5" cy="353.4" r="4.3"/><circle cx="1351.8" cy="366.9" r="4.3"/><circle cx="1364.3" cy="365.3" r="4.3"/><circle cx="1358.3" cy="377.5" r="4.3"/><circle cx="1361.9" cy="387.3" r="4.3"/><circle cx="1363.5" cy="395.4" r="4.3"/><circle cx="1352.6" cy="398.7" r="4.3"/><circle cx="1336.8" cy="389.7" r="4.3"/><circle cx="1328.6" cy="397.1" r="4.3"/><circle cx="1340.4" cy="402" r="4.3"/><circle cx="1333" cy="408" r="4.3"/><circle cx="1327.7" cy="420.7" r="4.3"/><circle cx="1315.1" cy="423.1" r="4.3"/><circle cx="1351.8" cy="422.3" r="4.3"/><circle cx="1311.9" cy="364.5" r="4.3"/><circle cx="1322.5" cy="362.9" r="4.3"/><circle cx="1315.9" cy="369.4" r="4.3"/><circle cx="1329" cy="369.4" r="4.3"/><circle cx="1311.1" cy="372.6" r="4.3"/><circle cx="1317.6" cy="379.2" r="4.3"/><circle cx="1324.9" cy="384" r="4.3"/><circle cx="1320" cy="387.3" r="4.3"/><circle cx="1160" cy="430.9" r="4.3"/><circle cx="1164.9" cy="428.5" r="4.3"/><circle cx="1177.1" cy="428.5" r="4.3"/><circle cx="1182.8" cy="430.9" r="4.3"/><circle cx="1187.7" cy="432.6" r="4.3"/><circle cx="1162.5" cy="448.9" r="4.3"/><circle cx="1162.5" cy="456.2" r="4.3"/><circle cx="1137.2" cy="466.8" r="4.3"/><circle cx="1141.3" cy="470.8" r="4.3"/><circle cx="1147.8" cy="464.3" r="4.3"/><circle cx="1176.3" cy="460.3" r="4.3"/><circle cx="1147.8" cy="483.9" r="4.3"/><circle cx="1156.8" cy="484.7" r="4.3"/><circle cx="1161.7" cy="492" r="4.3"/><circle cx="1145.4" cy="493.6" r="4.3"/><circle cx="1142.9" cy="510.7" r="4.3"/><circle cx="1180.4" cy="477.9" r="4.3"/><circle cx="1187.7" cy="482.2" r="4.3"/><circle cx="1187.7" cy="492" r="4.3"/><circle cx="1130.4" cy="522.1" r="4.3"/><circle cx="1132.3" cy="530.3" r="4.3"/><circle cx="1125" cy="536.5" r="4.3"/><circle cx="1132.3" cy="536.5" r="4.3"/><circle cx="1144.6" cy="540.9" r="4.3"/><circle cx="1151.1" cy="546.6" r="4.3"/><circle cx="1156.8" cy="536.8" r="4.3"/><circle cx="1158.4" cy="543.3" r="4.3"/><circle cx="1157.6" cy="552.8" r="4.3"/><circle cx="1169" cy="545.4" r="4.3"/><circle cx="1177.9" cy="532.7" r="4.3"/><circle cx="1177.9" cy="539.3" r="4.3"/><circle cx="1162.5" cy="525.7" r="4.3"/><circle cx="1170.6" cy="525.7" r="4.3"/><circle cx="1189.3" cy="525.7" r="4.3"/><circle cx="1195.9" cy="531.9" r="4.3"/><circle cx="1180.9" cy="512.4" r="4.3"/><circle cx="1180.4" cy="519.7" r="4.3"/><circle cx="1192.3" cy="508.8" r="4.3"/><circle cx="1208.1" cy="508.8" r="4.3"/><circle cx="1217" cy="511.6" r="4.3"/><circle cx="1220.3" cy="518.9" r="4.3"/><circle cx="1210.5" cy="531.1" r="4.3"/><circle cx="1217.9" cy="530.3" r="4.3"/><circle cx="1248" cy="512.4" r="4.3"/><circle cx="1253.7" cy="522.1" r="4.3"/><circle cx="1260.7" cy="517.6" r="4.3"/><circle cx="1204.8" cy="559.6" r="4.3"/><circle cx="1157.3" cy="567.8" r="4.3"/><circle cx="1121.4" cy="588.4" r="4.3"/><circle cx="1289.5" cy="492" r="4.3"/><circle cx="1288.7" cy="474.1" r="4.3"/><circle cx="1297.7" cy="460.6" r="4.3"/><circle cx="1303.4" cy="453.4" r="4.3"/><circle cx="1305.8" cy="443.2" r="4.3"/><circle cx="1270.8" cy="492.8" r="4.3"/><circle cx="1276.5" cy="486.3" r="4.3"/><circle cx="1276.5" cy="479.8" r="4.3"/><circle cx="1278.9" cy="483.9" r="4.3"/><circle cx="1269.2" cy="476.5" r="4.3"/><circle cx="1191" cy="497.7" r="4.3"/><circle cx="1195.9" cy="501.8" r="4.3"/><circle cx="1198.3" cy="496.1" r="4.3"/><circle cx="1202.4" cy="492.8" r="4.3"/><circle cx="1192.6" cy="470" r="4.3"/><circle cx="1187.7" cy="465.1" r="4.3"/><circle cx="1194.2" cy="466.8" r="4.3"/><circle cx="1204" cy="471.7" r="4.3"/><circle cx="1207.3" cy="479.8" r="4.3"/><circle cx="1212.1" cy="481.4" r="4.3"/><circle cx="1215.4" cy="487.9" r="4.3"/><circle cx="1220.3" cy="488.8" r="4.3"/><circle cx="1223.6" cy="493.6" r="4.3"/><circle cx="1223.6" cy="497.7" r="4.3"/><circle cx="1230.1" cy="502.6" r="4.3"/><circle cx="1231.7" cy="484.7" r="4.3"/><circle cx="1231.7" cy="491.2" r="4.3"/><circle cx="1236.6" cy="496.1" r="4.3"/><circle cx="1243.1" cy="483.1" r="4.3"/><circle cx="1251.2" cy="484.7" r="4.3"/><circle cx="1256.1" cy="483.1" r="4.3"/><circle cx="1248" cy="474.9" r="4.3"/><circle cx="1252.9" cy="470" r="4.3"/><circle cx="1259.4" cy="468.4" r="4.3"/><circle cx="1265.9" cy="471.7" r="4.3"/><circle cx="1218.7" cy="468.4" r="4.3"/><circle cx="1225.2" cy="471.7" r="4.3"/><circle cx="1231.7" cy="473.3" r="4.3"/><circle cx="1235" cy="474.1" r="4.3"/><circle cx="1238.2" cy="461.9" r="4.3"/><circle cx="1244.7" cy="462.7" r="4.3"/><circle cx="1252.9" cy="460.3" r="4.3"/><circle cx="1327" cy="432.6" r="4.3"/><circle cx="1339.6" cy="437.8" r="4.3"/><circle cx="1321.6" cy="445.6" r="4.3"/><circle cx="1323.3" cy="451" r="4.3"/><circle cx="1315.1" cy="460.7" r="4.3"/><circle cx="1370.8" cy="511.7" r="4.3"/><circle cx="1290.7" cy="348.2" r="4.3"/><circle cx="1305.4" cy="443.5" r="4.3"/><circle cx="1288.3" cy="358.8" r="4.3"/><circle cx="1293.1" cy="358" r="4.3"/><circle cx="1300.5" cy="358.8" r="4.3"/><circle cx="1289.9" cy="366.1" r="4.3"/><circle cx="1296.4" cy="367.8" r="4.3"/><circle cx="1302.9" cy="369.4" r="4.3"/><circle cx="1292.3" cy="375.9" r="4.3"/><circle cx="1299.7" cy="377.5" r="4.3"/><circle cx="1304.5" cy="382.4" r="4.3"/><circle cx="1309.4" cy="387.3" r="4.3"/><circle cx="1289.9" cy="384" r="4.3"/><circle cx="1289.9" cy="389.7" r="4.3"/><circle cx="1308.6" cy="398.7" r="4.3"/><circle cx="1303.7" cy="402.8" r="4.3"/><circle cx="1288.3" cy="402.8" r="4.3"/><circle cx="1293.1" cy="408.5" r="4.3"/><circle cx="1289.1" cy="423.9" r="4.3"/><circle cx="1297.2" cy="425.6" r="4.3"/><circle cx="1302.9" cy="425.6" r="4.3"/><circle cx="1297.2" cy="432.9" r="4.3"/><circle cx="1288.3" cy="434.5" r="4.3"/><circle cx="1298.1" cy="363.7" r="4.3"/><circle cx="1268" cy="367.8" r="4.3"/><circle cx="1271.5" cy="368.1" r="4.3"/><circle cx="1283" cy="370.3" r="4.3"/><circle cx="1292.5" cy="366.7" r="4.3"/><circle cx="1247" cy="377.6" r="4.3"/><circle cx="1254.6" cy="373.8" r="4.3"/><circle cx="1264.5" cy="374.1" r="4.3"/><circle cx="1269" cy="372.8" r="4.3"/><circle cx="1275" cy="375.5" r="4.3"/><circle cx="1282.8" cy="375.6" r="4.3"/><circle cx="1290.4" cy="374.8" r="4.3"/><circle cx="1300.5" cy="374.9" r="4.3"/><circle cx="1236.2" cy="383.5" r="4.3"/><circle cx="1244.2" cy="382.1" r="4.3"/><circle cx="1251.3" cy="382.8" r="4.3"/><circle cx="1260.1" cy="380" r="4.3"/><circle cx="1264.9" cy="382.2" r="4.3"/><circle cx="1271.4" cy="379.7" r="4.3"/><circle cx="1280.9" cy="382.9" r="4.3"/><circle cx="1288.2" cy="379.9" r="4.3"/><circle cx="1296.8" cy="379.5" r="4.3"/><circle cx="1299.1" cy="379.9" r="4.3"/><circle cx="1232.6" cy="389.3" r="4.3"/><circle cx="1243.1" cy="389.6" r="4.3"/><circle cx="1246.6" cy="387.9" r="4.3"/><circle cx="1256" cy="388.3" r="4.3"/><circle cx="1262.2" cy="389.7" r="4.3"/><circle cx="1267.9" cy="387.4" r="4.3"/><circle cx="1278.3" cy="389.2" r="4.3"/><circle cx="1285.3" cy="388.2" r="4.3"/><circle cx="1292.6" cy="389.3" r="4.3"/><circle cx="1297.3" cy="388.1" r="4.3"/><circle cx="1227.2" cy="395.2" r="4.3"/><circle cx="1232.8" cy="392.6" r="4.3"/><circle cx="1239.8" cy="393.6" r="4.3"/><circle cx="1245.3" cy="395" r="4.3"/><circle cx="1250.4" cy="394.5" r="4.3"/><circle cx="1257.2" cy="393.7" r="4.3"/><circle cx="1266.5" cy="391.8" r="4.3"/><circle cx="1274.6" cy="393.2" r="4.3"/><circle cx="1281.2" cy="395.4" r="4.3"/><circle cx="1286.3" cy="390.7" r="4.3"/><circle cx="1293.6" cy="394.1" r="4.3"/><circle cx="1223.1" cy="398.7" r="4.3"/><circle cx="1228.5" cy="398.3" r="4.3"/><circle cx="1233.2" cy="399.3" r="4.3"/><circle cx="1243.9" cy="401.1" r="4.3"/><circle cx="1250.2" cy="401.6" r="4.3"/><circle cx="1254.9" cy="397.6" r="4.3"/><circle cx="1262.8" cy="398.1" r="4.3"/><circle cx="1268.6" cy="398.8" r="4.3"/><circle cx="1293.6" cy="399" r="4.3"/><circle cx="1295.9" cy="396.8" r="4.3"/><circle cx="1222.7" cy="403" r="4.3"/><circle cx="1232.3" cy="405.1" r="4.3"/><circle cx="1239.3" cy="406.1" r="4.3"/><circle cx="1247.2" cy="407.7" r="4.3"/><circle cx="1253.6" cy="403.8" r="4.3"/><circle cx="1259.5" cy="403.7" r="4.3"/><circle cx="1264.1" cy="405.2" r="4.3"/><circle cx="1274.7" cy="403.7" r="4.3"/><circle cx="1279.4" cy="404.5" r="4.3"/><circle cx="1288.6" cy="405.4" r="4.3"/><circle cx="1223.1" cy="412.9" r="4.3"/><circle cx="1230.4" cy="411.2" r="4.3"/><circle cx="1235.9" cy="409.9" r="4.3"/><circle cx="1243.3" cy="413.1" r="4.3"/><circle cx="1249.8" cy="412.5" r="4.3"/><circle cx="1254.6" cy="413.5" r="4.3"/><circle cx="1265.6" cy="413.9" r="4.3"/><circle cx="1270.3" cy="412.9" r="4.3"/><circle cx="1276.2" cy="413.5" r="4.3"/><circle cx="1286" cy="410.6" r="4.3"/><circle cx="1288.9" cy="411.1" r="4.3"/><circle cx="1217.7" cy="418.6" r="4.3"/><circle cx="1226.4" cy="418.4" r="4.3"/><circle cx="1233.9" cy="417.4" r="4.3"/><circle cx="1240.9" cy="415.3" r="4.3"/><circle cx="1244.2" cy="417.6" r="4.3"/><circle cx="1251.5" cy="418.6" r="4.3"/><circle cx="1268.4" cy="417.8" r="4.3"/><circle cx="1272.6" cy="416.8" r="4.3"/><circle cx="1282.4" cy="419.5" r="4.3"/><circle cx="1286.1" cy="419.3" r="4.3"/><circle cx="1297" cy="417.6" r="4.3"/><circle cx="1206.6" cy="425.1" r="4.3"/><circle cx="1214.4" cy="423.5" r="4.3"/><circle cx="1222.1" cy="421.3" r="4.3"/><circle cx="1228.3" cy="423.1" r="4.3"/><circle cx="1237.5" cy="425.7" r="4.3"/><circle cx="1240.9" cy="423.4" r="4.3"/><circle cx="1247.2" cy="423.2" r="4.3"/><circle cx="1257.7" cy="425.6" r="4.3"/><circle cx="1268.5" cy="424.1" r="4.3"/><circle cx="1279.3" cy="421.6" r="4.3"/><circle cx="1285.6" cy="421" r="4.3"/><circle cx="1289.5" cy="422.1" r="4.3"/><circle cx="1299.1" cy="422.6" r="4.3"/><circle cx="1210.8" cy="429.3" r="4.3"/><circle cx="1217" cy="429.1" r="4.3"/><circle cx="1224.8" cy="427.8" r="4.3"/><circle cx="1230.1" cy="430.3" r="4.3"/><circle cx="1239.3" cy="429.7" r="4.3"/><circle cx="1247.4" cy="430.2" r="4.3"/><circle cx="1254.5" cy="428.2" r="4.3"/><circle cx="1260.9" cy="431.2" r="4.3"/><circle cx="1268.7" cy="428.6" r="4.3"/><circle cx="1272.6" cy="431.8" r="4.3"/><circle cx="1279.1" cy="432.2" r="4.3"/><circle cx="1289.6" cy="427.7" r="4.3"/><circle cx="1293.2" cy="430.8" r="4.3"/><circle cx="1300.3" cy="427.5" r="4.3"/><circle cx="1199.6" cy="436.6" r="4.3"/><circle cx="1204.6" cy="434.1" r="4.3"/><circle cx="1215" cy="437.8" r="4.3"/><circle cx="1223.5" cy="433.6" r="4.3"/><circle cx="1235.1" cy="436.6" r="4.3"/><circle cx="1240.5" cy="433.4" r="4.3"/><circle cx="1247.1" cy="433.2" r="4.3"/><circle cx="1256.4" cy="435.7" r="4.3"/><circle cx="1263.5" cy="433.8" r="4.3"/><circle cx="1268.5" cy="434.1" r="4.3"/><circle cx="1278.9" cy="438.2" r="4.3"/><circle cx="1286.3" cy="433.5" r="4.3"/><circle cx="1197.1" cy="439.2" r="4.3"/><circle cx="1204.6" cy="443.5" r="4.3"/><circle cx="1208.9" cy="441.5" r="4.3"/><circle cx="1218.8" cy="441.2" r="4.3"/><circle cx="1240.6" cy="443.3" r="4.3"/><circle cx="1246.7" cy="443.6" r="4.3"/><circle cx="1253.3" cy="441.2" r="4.3"/><circle cx="1260.1" cy="441.7" r="4.3"/><circle cx="1269.1" cy="443.3" r="4.3"/><circle cx="1272.3" cy="443.8" r="4.3"/><circle cx="1281.9" cy="443.2" r="4.3"/><circle cx="1194.3" cy="445.5" r="4.3"/><circle cx="1199.3" cy="447.6" r="4.3"/><circle cx="1204.6" cy="447" r="4.3"/><circle cx="1214.8" cy="448.4" r="4.3"/><circle cx="1219.7" cy="450.1" r="4.3"/><circle cx="1229" cy="446.9" r="4.3"/><circle cx="1235.9" cy="448.1" r="4.3"/><circle cx="1242.3" cy="447.2" r="4.3"/><circle cx="1251.7" cy="448.5" r="4.3"/><circle cx="1257.1" cy="449.1" r="4.3"/><circle cx="1265.6" cy="445.3" r="4.3"/><circle cx="1270.7" cy="449" r="4.3"/><circle cx="1275.8" cy="447.3" r="4.3"/><circle cx="1192" cy="454.2" r="4.3"/><circle cx="1199.2" cy="454.5" r="4.3"/><circle cx="1205.2" cy="451.6" r="4.3"/><circle cx="1211.1" cy="455.2" r="4.3"/><circle cx="1215.2" cy="456.1" r="4.3"/><circle cx="1222.8" cy="453.7" r="4.3"/><circle cx="1229.9" cy="453.8" r="4.3"/><circle cx="1239.2" cy="451.5" r="4.3"/><circle cx="1247.9" cy="453.4" r="4.3"/><circle cx="1252.7" cy="454.3" r="4.3"/><circle cx="1258.9" cy="452.7" r="4.3"/><circle cx="1267.4" cy="454.1" r="4.3"/><circle cx="1272.5" cy="455" r="4.3"/><circle cx="1195.6" cy="462.2" r="4.3"/><circle cx="1197.9" cy="462" r="4.3"/><circle cx="1206.7" cy="459.8" r="4.3"/><circle cx="1216.6" cy="458.6" r="4.3"/><circle cx="1221.2" cy="462.2" r="4.3"/><circle cx="1229.3" cy="459.7" r="4.3"/><circle cx="1237.6" cy="461.5" r="4.3"/><circle cx="1249.7" cy="459.7" r="4.3"/><circle cx="1254.6" cy="457.6" r="4.3"/><circle cx="1263.2" cy="457.9" r="4.3"/><circle cx="1269.8" cy="460.8" r="4.3"/><circle cx="1187.6" cy="468" r="4.3"/><circle cx="1198.1" cy="466.6" r="4.3"/><circle cx="1202.9" cy="464.8" r="4.3"/><circle cx="1211.6" cy="466.3" r="4.3"/><circle cx="1218.1" cy="466.6" r="4.3"/><circle cx="1225.9" cy="464.3" r="4.3"/><circle cx="1230.3" cy="468.4" r="4.3"/><circle cx="1243.2" cy="463.7" r="4.3"/><circle cx="1251.4" cy="465.6" r="4.3"/><circle cx="1260.2" cy="463.9" r="4.3"/><circle cx="1266.8" cy="463.7" r="4.3"/><circle cx="1194.7" cy="472.7" r="4.3"/><circle cx="1201.5" cy="470.5" r="4.3"/><circle cx="1206.7" cy="470.8" r="4.3"/><circle cx="1221.9" cy="474.6" r="4.3"/><circle cx="1227.2" cy="472.3" r="4.3"/><circle cx="1247" cy="474" r="4.3"/><circle cx="1263.4" cy="471.9" r="4.3"/><circle cx="1188.9" cy="479.3" r="4.3"/><circle cx="1195.9" cy="476.1" r="4.3"/><circle cx="1204.7" cy="478.4" r="4.3"/><circle cx="1212.8" cy="480.4" r="4.3"/><circle cx="1219.7" cy="477.8" r="4.3"/><circle cx="1226.2" cy="477.1" r="4.3"/><circle cx="1230.7" cy="477.6" r="4.3"/><circle cx="1240.9" cy="480.1" r="4.3"/><circle cx="1244.3" cy="477.4" r="4.3"/><circle cx="1207.3" cy="485.6" r="4.3"/><circle cx="1211.9" cy="482" r="4.3"/><circle cx="1222.3" cy="486.2" r="4.3"/><circle cx="1225.9" cy="484.8" r="4.3"/><circle cx="1233.2" cy="485.4" r="4.3"/><circle cx="1242.9" cy="482.8" r="4.3"/><circle cx="1247.6" cy="485.5" r="4.3"/><circle cx="1191.3" cy="492.2" r="4.3"/><circle cx="1199" cy="490.9" r="4.3"/><circle cx="1203.7" cy="491.3" r="4.3"/><circle cx="1217.2" cy="488.4" r="4.3"/><circle cx="1225.9" cy="492.8" r="4.3"/><circle cx="1231" cy="488.5" r="4.3"/><circle cx="1237.1" cy="489.8" r="4.3"/><circle cx="1191.5" cy="495.1" r="4.3"/><circle cx="1198.4" cy="497.6" r="4.3"/><circle cx="1230.3" cy="495.4" r="4.3"/><circle cx="1311.7" cy="364.9" r="4.3"/><circle cx="1318.2" cy="364.8" r="4.3"/><circle cx="1301.1" cy="372.1" r="4.3"/><circle cx="1309.8" cy="370.7" r="4.3"/><circle cx="1313.2" cy="369.5" r="4.3"/><circle cx="1323.2" cy="368.9" r="4.3"/><circle cx="1306.1" cy="374.8" r="4.3"/><circle cx="1312.3" cy="375.2" r="4.3"/><circle cx="1318.3" cy="376.3" r="4.3"/><circle cx="1324.9" cy="375.4" r="4.3"/><circle cx="1300.8" cy="382.9" r="4.3"/><circle cx="1307.2" cy="380.9" r="4.3"/><circle cx="1316.3" cy="381.4" r="4.3"/><circle cx="1324.3" cy="382.5" r="4.3"/><circle cx="1317.4" cy="387.8" r="4.3"/>
</g>
</g>
<g class="chart" id="chart3">
<path class="axis" d="M128 873.7V1534H716.48M119 1534h9M120.8 1478.97h7.2M119 1423.95h9M120.8 1368.92h7.2M119 1313.9h9M120.8 1258.88h7.2M119 1203.85h9M120.8 1148.83h7.2M119 1093.8h9M120.8 1038.78h7.2M119 983.75h9M120.8 928.72h7.2M119 873.7h9M128 1534v8.4M177.04 1534v6M226.08 1534v8.4M275.12 1534v6M324.16 1534v8.4M373.2 1534v6M422.24 1534v8.4M471.28 1534v6M520.32 1534v8.4M569.36 1534v6M618.4 1534v8.4M667.44 1534v6M716.48 1534v8.4" stroke="#404040"/>
<g class="ticks" font-size="29.3">
<text transform="translate(102.6 1542.6) scale(1 1.06)" text-anchor="end">0</text>
<text transform="translate(102.6 1432.55) scale(1 1.06)" text-anchor="end">10</text>
<text transform="translate(102.6 1322.5) scale(1 1.06)" text-anchor="end">20</text>
<text transform="translate(102.6 1212.45) scale(1 1.06)" text-anchor="end">30</text>
<text transform="translate(102.6 1102.4) scale(1 1.06)" text-anchor="end">40</text>
<text transform="translate(102.6 992.35) scale(1 1.06)" text-anchor="end">50</text>
<text transform="translate(102.6 882.3) scale(1 1.06)" text-anchor="end">60</text>
<text transform="translate(128 1577) scale(1 1.025)" text-anchor="middle">0</text>
<text transform="translate(226.08 1577) scale(1 1.025)" text-anchor="middle">100</text>
<text transform="translate(324.16 1577) scale(1 1.025)" text-anchor="middle">200</text>
<text transform="translate(422.24 1577) scale(1 1.025)" text-anchor="middle">300</text>
<text transform="translate(520.32 1577) scale(1 1.025)" text-anchor="middle">400</text>
<text transform="translate(618.4 1577) scale(1 1.025)" text-anchor="middle">500</text>
<text transform="translate(716.48 1577) scale(1 1.025)" text-anchor="middle">600</text>
</g>
<text class="lab" transform="translate(408 1629.1) scale(1 1.025)" font-size="32.3" text-anchor="middle">R/H, Ohm/m</text>
<text class="lab" transform="translate(32.7 1209.3) rotate(-90) scale(1 0.985)" font-size="32.6" text-anchor="middle">Xc/H, Ohm/m</text>
<g class="ell" stroke-width="1.45">
<path d="M455.18 1193.72L456.35 1195.69L457.3 1197.85L458 1200.19L458.48 1202.69L458.71 1205.35L458.7 1208.15L458.45 1211.08L457.97 1214.14L457.24 1217.3L456.29 1220.55L455.1 1223.88L453.69 1227.28L452.05 1230.73L450.21 1234.21L448.16 1237.71L445.92 1241.22L443.49 1244.72L440.89 1248.19L438.13 1251.63L435.21 1255.01L432.15 1258.32L428.96 1261.55L425.66 1264.68L422.27 1267.71L418.79 1270.61L415.24 1273.37L411.63 1275.99L407.99 1278.45L404.32 1280.74L400.65 1282.85L396.99 1284.77L393.34 1286.5L389.74 1288.02L386.2 1289.34L382.72 1290.44L379.33 1291.32L376.04 1291.97L372.86 1292.4L369.81 1292.6L366.9 1292.57L364.14 1292.31L361.55 1291.82L359.13 1291.1L356.9 1290.17L354.87 1289.01L353.04 1287.64L351.42 1286.06L350.02 1284.28L348.85 1282.31L347.9 1280.15L347.2 1277.81L346.72 1275.31L346.49 1272.65L346.5 1269.85L346.75 1266.92L347.23 1263.86L347.96 1260.7L348.91 1257.45L350.1 1254.12L351.51 1250.72L353.15 1247.27L354.99 1243.79L357.04 1240.29L359.28 1236.78L361.71 1233.28L364.31 1229.81L367.07 1226.37L369.99 1222.99L373.05 1219.68L376.24 1216.45L379.54 1213.32L382.93 1210.29L386.41 1207.39L389.96 1204.63L393.57 1202.01L397.21 1199.55L400.88 1197.26L404.55 1195.15L408.21 1193.23L411.86 1191.5L415.46 1189.98L419 1188.66L422.48 1187.56L425.87 1186.68L429.16 1186.03L432.34 1185.6L435.39 1185.4L438.3 1185.43L441.06 1185.69L443.65 1186.18L446.07 1186.9L448.3 1187.83L450.33 1188.99L452.16 1190.36L453.78 1191.94Z" stroke="#6fe84c"/>
<path d="M476.91 1175L478.57 1177.79L479.9 1180.85L480.91 1184.15L481.57 1187.68L481.9 1191.44L481.89 1195.4L481.54 1199.55L480.85 1203.86L479.83 1208.33L478.48 1212.93L476.8 1217.63L474.8 1222.43L472.5 1227.31L469.89 1232.23L467 1237.18L463.83 1242.14L460.4 1247.08L456.72 1251.99L452.81 1256.85L448.68 1261.62L444.36 1266.31L439.86 1270.87L435.2 1275.3L430.4 1279.57L425.48 1283.67L420.46 1287.58L415.37 1291.28L410.22 1294.75L405.04 1297.99L399.84 1300.97L394.66 1303.69L389.52 1306.13L384.43 1308.29L379.42 1310.15L374.5 1311.7L369.71 1312.94L365.06 1313.87L360.57 1314.47L356.26 1314.75L352.14 1314.71L348.25 1314.34L344.58 1313.65L341.17 1312.64L338.02 1311.32L335.14 1309.68L332.55 1307.75L330.27 1305.51L328.29 1303L326.63 1300.21L325.3 1297.15L324.29 1293.85L323.63 1290.32L323.3 1286.56L323.31 1282.6L323.66 1278.45L324.35 1274.14L325.37 1269.67L326.72 1265.07L328.4 1260.37L330.4 1255.57L332.7 1250.69L335.31 1245.77L338.2 1240.82L341.37 1235.86L344.8 1230.92L348.48 1226.01L352.39 1221.15L356.52 1216.38L360.84 1211.69L365.34 1207.13L370 1202.7L374.8 1198.43L379.72 1194.33L384.74 1190.42L389.83 1186.72L394.98 1183.25L400.16 1180.01L405.36 1177.03L410.54 1174.31L415.68 1171.87L420.77 1169.71L425.78 1167.85L430.7 1166.3L435.49 1165.06L440.14 1164.13L444.63 1163.53L448.94 1163.25L453.06 1163.29L456.95 1163.66L460.62 1164.35L464.03 1165.36L467.18 1166.68L470.06 1168.32L472.65 1170.25L474.93 1172.49Z" stroke="#e2392d"/>
<path d="M511.4 1145.3L513.83 1149.39L515.78 1153.85L517.25 1158.69L518.23 1163.87L518.71 1169.37L518.69 1175.16L518.18 1181.23L517.17 1187.55L515.68 1194.09L513.69 1200.82L511.24 1207.72L508.31 1214.75L504.94 1221.88L501.12 1229.08L496.89 1236.33L492.25 1243.59L487.22 1250.83L481.84 1258.02L476.11 1265.13L470.07 1272.12L463.74 1278.98L457.15 1285.66L450.33 1292.14L443.3 1298.4L436.1 1304.4L428.75 1310.12L421.29 1315.54L413.75 1320.63L406.17 1325.37L398.57 1329.74L390.98 1333.72L383.45 1337.29L375.99 1340.45L368.66 1343.17L361.46 1345.44L354.45 1347.26L347.64 1348.61L341.06 1349.5L334.75 1349.91L328.73 1349.85L323.02 1349.31L317.66 1348.3L312.66 1346.82L308.04 1344.88L303.83 1342.49L300.04 1339.65L296.69 1336.38L293.8 1332.7L291.37 1328.61L289.42 1324.15L287.95 1319.31L286.97 1314.13L286.49 1308.63L286.51 1302.84L287.02 1296.77L288.03 1290.45L289.52 1283.91L291.51 1277.18L293.96 1270.28L296.89 1263.25L300.26 1256.12L304.08 1248.92L308.31 1241.67L312.95 1234.41L317.98 1227.17L323.36 1219.98L329.09 1212.87L335.13 1205.88L341.46 1199.02L348.05 1192.34L354.87 1185.86L361.9 1179.6L369.1 1173.6L376.45 1167.88L383.91 1162.46L391.45 1157.37L399.03 1152.63L406.63 1148.26L414.22 1144.28L421.75 1140.71L429.21 1137.55L436.54 1134.83L443.74 1132.56L450.75 1130.74L457.56 1129.39L464.14 1128.5L470.45 1128.09L476.47 1128.15L482.18 1128.69L487.54 1129.7L492.54 1131.18L497.16 1133.12L501.37 1135.51L505.16 1138.35L508.51 1141.62Z" stroke="#000"/>
</g>
<path class="vec" d="M128 1534L402.6 1239M293.8 1332.7L511.4 1145.3M361.9 1179.6L443.3 1298.4" stroke-width="1.65"/>
<path class="tbl" d="M314.6 1436.5H713.4V1523.5H314.6ZM314.6 1481.2H713.4M376.8 1436.5V1523.5M461.6 1436.5V1523.5M530.6 1436.5V1523.5M604.3 1436.5V1523.5M657.3 1436.5V1523.5"/>
<g class="tt" font-size="26">
<text transform="translate(327.6 1473.4) scale(0.92 1.035)">N</text>
<text transform="translate(326.4 1517.8) scale(1 1.03)" font-size="25.5">363</text>
<text transform="translate(390.2 1473.4) scale(0.9 1.035)">R/H</text>
<text transform="translate(389.4 1517.8) scale(1 1.03)" font-size="25.5">280.2</text>
<text transform="translate(471.6 1473.4) scale(0.9 1.035)">SD</text>
<text transform="translate(471.6 1517.8) scale(1 1.03)" font-size="25.5">47.9</text>
<text transform="translate(540.6 1473.4) scale(0.95 1.035)">Xc/H</text>
<text transform="translate(545.6 1517.8) scale(1 1.03)" font-size="25.5">26.8</text>
<text transform="translate(614.5 1473.4) scale(0.9 1.035)">SD</text>
<text transform="translate(614.5 1517.8) scale(1 1.03)" font-size="25.5">4.1</text>
<text transform="translate(670.1 1473.4) scale(0.95 1.035)">r</text>
<text transform="translate(670.1 1517.8) scale(1 1.03)" font-size="25.5">0.6</text>
</g>
</g>
<g class="chart" id="chart4">
<path class="axis" d="M903.7 872.7V1533.9H1500.88M894.7 1533.9h9M896.5 1478.8h7.2M894.7 1423.7h9M896.5 1368.6h7.2M894.7 1313.5h9M896.5 1258.4h7.2M894.7 1203.3h9M896.5 1148.2h7.2M894.7 1093.1h9M896.5 1038h7.2M894.7 982.9h9M896.5 927.8h7.2M894.7 872.7h9M903.7 1533.9v8.4M953.47 1533.9v6M1003.23 1533.9v8.4M1053 1533.9v6M1102.76 1533.9v8.4M1152.53 1533.9v6M1202.29 1533.9v8.4M1252.06 1533.9v6M1301.82 1533.9v8.4M1351.59 1533.9v6M1401.35 1533.9v8.4M1451.12 1533.9v6M1500.88 1533.9v8.4" stroke="#404040"/>
<g class="ticks" font-size="29.3">
<text transform="translate(878.1 1542.1) scale(1 1.065)" text-anchor="end">0</text>
<text transform="translate(878.1 1431.9) scale(1 1.065)" text-anchor="end">10</text>
<text transform="translate(878.1 1321.7) scale(1 1.065)" text-anchor="end">20</text>
<text transform="translate(878.1 1211.5) scale(1 1.065)" text-anchor="end">30</text>
<text transform="translate(878.1 1101.3) scale(1 1.065)" text-anchor="end">40</text>
<text transform="translate(878.1 991.1) scale(1 1.065)" text-anchor="end">50</text>
<text transform="translate(878.1 880.9) scale(1 1.065)" text-anchor="end">60</text>
<text transform="translate(903.7 1577) scale(1 1.025)" text-anchor="middle">0</text>
<text transform="translate(1003.23 1577) scale(1 1.025)" text-anchor="middle">100</text>
<text transform="translate(1102.76 1577) scale(1 1.025)" text-anchor="middle">200</text>
<text transform="translate(1202.29 1577) scale(1 1.025)" text-anchor="middle">300</text>
<text transform="translate(1301.82 1577) scale(1 1.025)" text-anchor="middle">400</text>
<text transform="translate(1401.35 1577) scale(1 1.025)" text-anchor="middle">500</text>
<text transform="translate(1500.88 1577) scale(1 1.025)" text-anchor="middle">600</text>
</g>
<text class="lab" transform="translate(1188.2 1629.1) scale(1 1.025)" font-size="32.9" text-anchor="middle">R/H, Ohm/m</text>
<text class="lab" transform="translate(807 1208.6) rotate(-90) scale(1 0.985)" font-size="32.6" text-anchor="middle">Xc/H, Ohm/m</text>
<g class="ell" stroke-width="1.45">
<path d="M1336.85 1124.6L1338.52 1126.96L1339.87 1129.63L1340.91 1132.58L1341.63 1135.8L1342.03 1139.29L1342.1 1143.02L1341.85 1146.98L1341.27 1151.16L1340.37 1155.52L1339.16 1160.07L1337.64 1164.77L1335.8 1169.6L1333.67 1174.56L1331.26 1179.6L1328.56 1184.72L1325.6 1189.89L1322.38 1195.09L1318.93 1200.3L1315.25 1205.49L1311.35 1210.64L1307.27 1215.73L1303.01 1220.74L1298.59 1225.65L1294.04 1230.43L1289.36 1235.06L1284.59 1239.54L1279.74 1243.83L1274.83 1247.91L1269.89 1251.78L1264.93 1255.41L1259.97 1258.79L1255.05 1261.9L1250.17 1264.73L1245.36 1267.27L1240.64 1269.51L1236.02 1271.43L1231.54 1273.04L1227.21 1274.32L1223.05 1275.26L1219.07 1275.87L1215.29 1276.14L1211.73 1276.07L1208.41 1275.66L1205.33 1274.91L1202.51 1273.82L1199.97 1272.4L1197.71 1270.66L1195.75 1268.6L1194.08 1266.24L1192.73 1263.57L1191.69 1260.62L1190.97 1257.4L1190.57 1253.91L1190.5 1250.18L1190.75 1246.22L1191.33 1242.04L1192.23 1237.68L1193.44 1233.13L1194.96 1228.43L1196.8 1223.6L1198.93 1218.64L1201.34 1213.6L1204.04 1208.48L1207 1203.31L1210.22 1198.11L1213.67 1192.9L1217.35 1187.71L1221.25 1182.56L1225.33 1177.47L1229.59 1172.46L1234.01 1167.55L1238.56 1162.77L1243.24 1158.14L1248.01 1153.66L1252.86 1149.37L1257.77 1145.29L1262.71 1141.42L1267.67 1137.79L1272.63 1134.41L1277.55 1131.3L1282.43 1128.47L1287.24 1125.93L1291.96 1123.69L1296.58 1121.77L1301.06 1120.16L1305.39 1118.88L1309.55 1117.94L1313.53 1117.33L1317.31 1117.06L1320.87 1117.13L1324.19 1117.54L1327.27 1118.29L1330.09 1119.38L1332.63 1120.8L1334.89 1122.54Z" stroke="#6fe84c"/>
<path d="M1366.02 1094.83L1368.37 1098.18L1370.28 1101.94L1371.75 1106.11L1372.77 1110.67L1373.33 1115.6L1373.43 1120.87L1373.07 1126.47L1372.26 1132.37L1370.99 1138.55L1369.28 1144.97L1367.12 1151.61L1364.53 1158.45L1361.52 1165.45L1358.11 1172.58L1354.3 1179.81L1350.11 1187.12L1345.57 1194.47L1340.68 1201.83L1335.48 1209.16L1329.98 1216.44L1324.21 1223.64L1318.19 1230.72L1311.94 1237.65L1305.5 1244.41L1298.9 1250.96L1292.15 1257.28L1285.3 1263.35L1278.36 1269.12L1271.37 1274.59L1264.36 1279.72L1257.36 1284.49L1250.39 1288.89L1243.5 1292.89L1236.7 1296.48L1230.03 1299.65L1223.51 1302.37L1217.18 1304.64L1211.05 1306.44L1205.17 1307.78L1199.54 1308.64L1194.2 1309.02L1189.17 1308.92L1184.48 1308.34L1180.13 1307.27L1176.15 1305.74L1172.55 1303.74L1169.36 1301.28L1166.58 1298.37L1164.23 1295.02L1162.32 1291.26L1160.85 1287.09L1159.83 1282.53L1159.27 1277.6L1159.17 1272.33L1159.53 1266.73L1160.34 1260.83L1161.61 1254.65L1163.32 1248.23L1165.48 1241.59L1168.07 1234.75L1171.08 1227.75L1174.49 1220.62L1178.3 1213.39L1182.49 1206.08L1187.03 1198.73L1191.92 1191.37L1197.12 1184.04L1202.62 1176.76L1208.39 1169.56L1214.41 1162.48L1220.66 1155.55L1227.1 1148.79L1233.7 1142.24L1240.45 1135.92L1247.3 1129.85L1254.24 1124.08L1261.23 1118.61L1268.24 1113.48L1275.24 1108.71L1282.21 1104.31L1289.1 1100.31L1295.9 1096.72L1302.57 1093.55L1309.09 1090.83L1315.42 1088.56L1321.55 1086.76L1327.43 1085.42L1333.06 1084.56L1338.4 1084.18L1343.43 1084.28L1348.12 1084.86L1352.47 1085.93L1356.45 1087.46L1360.05 1089.46L1363.24 1091.92Z" stroke="#e2392d"/>
<path d="M1412.3 1047.6L1415.74 1052.5L1418.54 1058.01L1420.69 1064.12L1422.18 1070.79L1423 1078.01L1423.15 1085.73L1422.63 1093.93L1421.44 1102.56L1419.58 1111.6L1417.07 1121L1413.92 1130.73L1410.13 1140.74L1405.72 1150.99L1400.72 1161.43L1395.14 1172.02L1389.01 1182.72L1382.35 1193.48L1375.2 1204.25L1367.58 1214.99L1359.53 1225.65L1351.08 1236.19L1342.27 1246.55L1333.13 1256.71L1323.7 1266.6L1314.03 1276.2L1304.15 1285.45L1294.11 1294.32L1283.96 1302.78L1273.72 1310.78L1263.46 1318.29L1253.21 1325.28L1243.01 1331.72L1232.91 1337.58L1222.96 1342.84L1213.19 1347.47L1203.65 1351.46L1194.38 1354.78L1185.41 1357.42L1176.8 1359.38L1168.56 1360.64L1160.74 1361.19L1153.38 1361.05L1146.5 1360.19L1140.13 1358.64L1134.3 1356.39L1129.04 1353.46L1124.37 1349.86L1120.3 1345.6L1116.86 1340.7L1114.06 1335.19L1111.91 1329.08L1110.42 1322.41L1109.6 1315.19L1109.45 1307.47L1109.97 1299.27L1111.16 1290.64L1113.02 1281.6L1115.53 1272.2L1118.68 1262.47L1122.47 1252.46L1126.88 1242.21L1131.88 1231.77L1137.46 1221.18L1143.59 1210.48L1150.25 1199.72L1157.4 1188.95L1165.02 1178.21L1173.07 1167.55L1181.52 1157.01L1190.33 1146.65L1199.47 1136.49L1208.9 1126.6L1218.57 1117L1228.45 1107.75L1238.49 1098.88L1248.64 1090.42L1258.88 1082.42L1269.14 1074.91L1279.39 1067.92L1289.59 1061.48L1299.69 1055.62L1309.64 1050.36L1319.41 1045.73L1328.95 1041.74L1338.22 1038.42L1347.19 1035.78L1355.8 1033.82L1364.04 1032.56L1371.86 1032.01L1379.22 1032.15L1386.1 1033.01L1392.47 1034.56L1398.3 1036.81L1403.56 1039.74L1408.23 1043.34Z" stroke="#000"/>
</g>
<path class="vec" d="M903.7 1533.9L1266.3 1196.6M1120.3 1345.6L1412.3 1047.6M1208.9 1126.6L1323.7 1266.6" stroke-width="1.65"/>
<path class="tbl" d="M1098.1 1436.5H1496.9V1523.5H1098.1ZM1098.1 1481.2H1496.9M1160.3 1436.5V1523.5M1245.1 1436.5V1523.5M1314.1 1436.5V1523.5M1387.8 1436.5V1523.5M1440.8 1436.5V1523.5"/>
<g class="tt" font-size="26">
<text transform="translate(1111.1 1473.4) scale(0.92 1.035)">N</text>
<text transform="translate(1109.9 1517.8) scale(1 1.03)" font-size="25.5">472</text>
<text transform="translate(1173.7 1473.4) scale(0.9 1.035)">R/H</text>
<text transform="translate(1172.9 1517.8) scale(1 1.03)" font-size="25.5">363.8</text>
<text transform="translate(1255.1 1473.4) scale(0.9 1.035)">SD</text>
<text transform="translate(1255.1 1517.8) scale(1 1.03)" font-size="25.5">63.9</text>
<text transform="translate(1324.1 1473.4) scale(0.95 1.035)">Xc/H</text>
<text transform="translate(1329.1 1517.8) scale(1 1.03)" font-size="25.5">30.6</text>
<text transform="translate(1398 1473.4) scale(0.9 1.035)">SD</text>
<text transform="translate(1398 1517.8) scale(1 1.03)" font-size="25.5">6.1</text>
<text transform="translate(1453.6 1473.4) scale(0.95 1.035)">r</text>
<text transform="translate(1453.6 1517.8) scale(1 1.03)" font-size="25.5">0.7</text>
</g>
</g>
<g class="legend" font-size="18">
<path d="M163 116.3H198.4" stroke="#000" stroke-width="2" fill="none"/>
<text transform="translate(201.4 121.65) scale(1 0.965)">95% tolerance</text>
<path d="M163 146.8H198.4" stroke="#d9473f" stroke-width="2" fill="none"/>
<text transform="translate(201.4 152.15) scale(1 0.965)">75% tolerance</text>
<path d="M163 177.3H198.4" stroke="#7add58" stroke-width="2" fill="none"/>
<text transform="translate(201.4 182.65) scale(1 0.965)">50% tolerance</text>
</g>
</svg></body></html>
